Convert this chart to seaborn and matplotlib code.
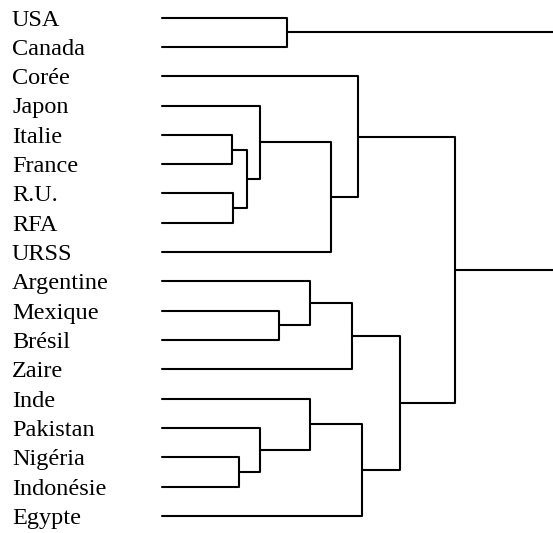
import pandas as pd
import seaborn as sns
import matplotlib.pyplot as plt

# Pays (feuilles du dendrogramme, de haut en bas)
pays = ["USA", "Canada", "Corée", "Japon", "Italie", "France", "R.U.", "RFA",
        "URSS", "Argentine", "Mexique", "Brésil", "Zaire", "Inde", "Pakistan",
        "Nigéria", "Indonésie", "Egypte"]

# Fusions (comme une matrice de liaison) : noeuds 0..17 = pays, 18+ = groupes
fusion_gauche = [4, 6, 15, 18, 3, 14, 10, 0, 9, 13, 22, 12, 2, 17, 29, 30, 25]
fusion_droite = [5, 7, 16, 19, 21, 20, 11, 1, 24, 23, 8, 26, 28, 27, 31, 32, 33]
hauteur = [0.70, 0.71, 0.77, 0.85, 0.98, 0.98, 1.17, 1.25, 1.48, 1.48,
           1.69, 1.90, 1.96, 2.00, 2.38, 2.93, 4.00]

sns.set_theme(style="white")
plt.rcParams['font.family'] = ['Liberation Serif', 'DejaVu Serif']

# Position verticale et hauteur de chaque noeud
pos_y = {i: float(i) for i in range(len(pays))}
pos_x = {i: 0.0 for i in range(len(pays))}
lignes = []
for k, (g, d, h) in enumerate(zip(fusion_gauche, fusion_droite, hauteur)):
    noeud = len(pays) + k
    xs = [pos_x[g], h, h, pos_x[d]]
    ys = [pos_y[g], pos_y[g], pos_y[d], pos_y[d]]
    for j, (x, y) in enumerate(zip(xs, ys)):
        lignes.append({"lien": k, "ordre": j, "x": x, "y": y})
    pos_x[noeud] = h
    pos_y[noeud] = (pos_y[g] + pos_y[d]) / 2

df = pd.DataFrame(lignes)

fig = plt.figure(figsize=(5.53, 5.33), dpi=100)
ax = fig.add_axes([0, 0, 1, 1])
sns.lineplot(data=df, x="x", y="y", units="lien", estimator=None, sort=False,
             color="black", linewidth=1.5, ax=ax)

# Noms des pays
for i, nom in enumerate(pays):
    ax.text(-1.50, i + 0.27, nom, ha="left", va="baseline", fontsize=17.5,
            color="black")

ax.set_xlim(-1.62, 3.91)
ax.set_ylim(17.58, -0.6)
ax.set_axis_off()

plt.savefig("out.png", dpi=100)
plt.close()
